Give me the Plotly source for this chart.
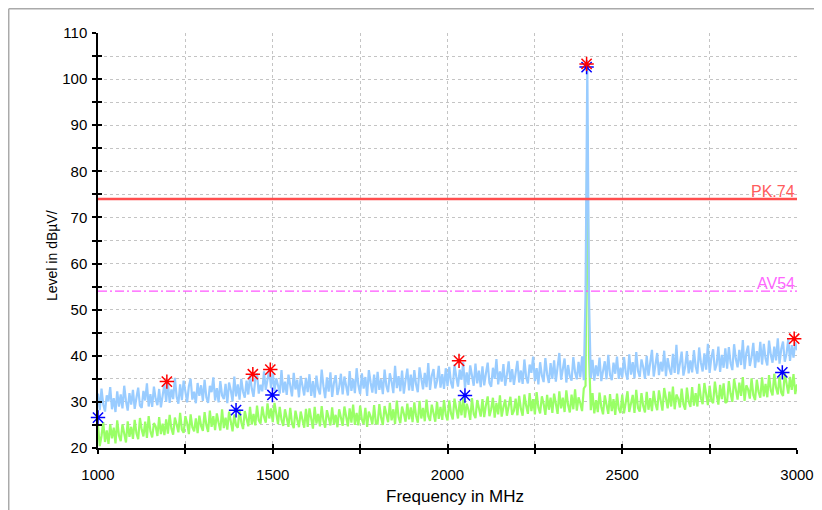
import numpy as np
import plotly.graph_objects as go

# ---------------- data ----------------
f_start, f_step = 1000, 5  # sweep grid (MHz)

peak_level = [
    31.8, 28.2, 32.9, 29.5, 27.9, 31.4, 30.1, 33.2, 28.4, 30.8, 27.8, 32.3, 29.0, 31.6, 28.6, 33.5, 30.2, 28.1, 31.9, 29.4,
    32.6, 28.5, 30.9, 33.1, 29.2, 28.7, 32.4, 30.3, 34.0, 29.0, 31.7, 28.9, 33.3, 30.6, 29.3, 32.8, 28.8, 31.5, 33.9, 30.0,
    34.4, 29.8, 32.7, 30.6, 35.2, 31.1, 29.6, 33.8, 30.4, 34.6, 32.0, 29.9, 33.4, 35.0, 30.5, 32.2, 29.7, 34.1, 31.3, 33.6,
    30.2, 34.8, 31.0, 29.8, 33.5, 32.1, 35.3, 30.3, 33.0, 29.9, 34.5, 31.4, 30.6, 33.9, 29.7, 34.2, 32.5, 30.1, 35.5, 31.2,
    33.8, 30.5, 35.0, 32.2, 30.9, 34.6, 31.6, 35.8, 32.9, 31.1, 34.9, 36.2, 31.8, 33.7, 32.3, 36.6, 32.6, 35.4, 37.1, 33.0,
    36.4, 32.4, 35.1, 33.6, 31.8, 36.9, 32.0, 34.4, 31.5, 35.9, 33.1, 31.2, 36.3, 32.7, 34.8, 31.0, 35.6, 33.3, 31.4, 35.2,
    32.1, 36.0, 31.3, 34.5, 30.9, 35.7, 32.8, 31.6, 37.0, 33.4, 30.8, 35.3, 32.2, 36.4, 31.1, 34.1, 35.8, 31.5, 33.2, 36.1,
    31.6, 35.5, 33.0, 31.4, 36.7, 32.4, 35.0, 31.9, 37.3, 33.6, 31.7, 36.2, 32.9, 35.4, 31.3, 36.9, 34.2, 32.0, 35.9, 31.8,
    36.5, 32.6, 34.9, 31.7, 37.0, 33.5, 32.1, 36.2, 34.4, 31.9, 37.8, 33.0, 35.6, 32.3, 36.8, 31.8, 34.7, 37.2, 32.5, 35.9,
    32.4, 36.9, 33.8, 32.1, 37.5, 34.6, 32.7, 36.3, 33.2, 38.4, 32.6, 35.7, 37.1, 32.9, 34.5, 37.8, 33.1, 36.0, 32.8, 37.3,
    33.4, 37.6, 34.2, 32.9, 38.1, 35.5, 33.3, 37.0, 34.8, 38.6, 33.0, 36.4, 33.7, 37.9, 35.1, 33.5, 38.3, 34.0, 36.8, 33.2,
    37.7, 33.6, 36.2, 38.5, 34.1, 33.3, 37.4, 35.0, 39.3, 33.8, 36.6, 34.4, 38.2, 33.5, 35.9, 38.8, 34.3, 37.1, 33.7, 36.5,
    38.9, 34.2, 36.8, 33.9, 39.2, 35.4, 34.0, 38.1, 36.3, 39.8, 34.5, 37.3, 33.8, 38.6, 35.7, 34.3, 39.5, 36.0, 34.1, 38.4,
    35.0, 39.0, 34.4, 37.6, 40.6, 34.8, 36.9, 39.4, 34.2, 38.0, 35.5, 34.6, 39.7, 36.4, 34.9, 38.7, 35.3, 39.9, 34.7, 53.5,
    103.0, 52.0, 35.2, 39.1, 34.6, 37.9, 35.6, 39.6, 34.5, 36.7, 38.8, 34.9, 40.2, 35.8, 34.7, 38.5, 36.1, 39.8, 35.0, 37.4,
    35.3, 39.7, 36.4, 34.8, 40.3, 35.9, 38.6, 35.1, 40.8, 36.7, 35.4, 39.2, 37.5, 35.0, 40.0, 35.7, 38.9, 41.3, 35.5, 37.8,
    40.6, 35.8, 38.7, 36.6, 41.1, 35.6, 39.5, 37.2, 35.9, 40.4, 36.3, 42.4, 36.0, 38.3, 40.9, 35.7, 37.6, 41.0, 36.2, 39.0,
    36.4, 41.2, 37.7, 36.1, 41.8, 38.5, 36.6, 40.5, 37.0, 42.6, 36.3, 39.6, 41.4, 36.8, 38.1, 42.0, 36.5, 40.2, 37.4, 41.6,
    37.2, 41.9, 38.4, 36.9, 42.5, 39.3, 37.5, 41.3, 38.0, 43.4, 37.1, 40.6, 42.2, 37.8, 39.7, 42.8, 37.4, 41.0, 38.6, 43.0,
    38.1, 42.6, 39.4, 37.9, 43.3, 40.2, 38.5, 42.0, 39.0, 43.8, 38.3, 41.5, 43.1, 38.7, 40.4, 43.6, 38.9, 42.3, 39.6, 43.0,
    41.2,
]

avg_level = [
    24.9, 20.4, 22.6, 25.6, 21.3, 23.8, 20.9, 25.2, 22.1, 24.4, 21.0, 26.0, 22.7, 21.5, 25.1, 23.3, 21.2, 25.8, 22.4, 24.6,
    22.0, 26.1, 23.2, 21.9, 26.5, 24.0, 22.5, 25.7, 22.2, 26.9, 23.6, 22.3, 25.4, 24.7, 22.6, 26.7, 23.0, 25.3, 22.8, 26.2,
    23.1, 27.2, 24.2, 22.9, 26.6, 25.1, 23.4, 27.6, 24.0, 23.3, 26.9, 25.4, 23.0, 27.3, 24.5, 23.6, 26.4, 23.2, 27.0, 24.8,
    23.7, 27.8, 25.0, 23.5, 28.1, 24.6, 26.9, 23.9, 27.5, 25.5, 23.8, 28.4, 24.3, 26.6, 24.0, 27.9, 25.2, 23.6, 27.3, 24.9,
    24.4, 28.3, 25.6, 24.1, 28.0, 26.3, 24.7, 28.9, 25.1, 27.4, 24.9, 29.2, 26.0, 25.3, 29.0, 26.8, 25.5, 29.7, 26.4, 28.6,
    25.6, 29.8, 27.2, 25.2, 28.9, 26.1, 24.8, 28.4, 26.5, 24.6, 28.7, 25.4, 24.3, 28.1, 26.2, 24.5, 27.9, 25.8, 24.4, 28.5,
    24.6, 28.6, 26.0, 24.2, 28.9, 25.3, 27.4, 24.7, 29.1, 25.9, 24.4, 28.2, 26.6, 24.9, 28.8, 25.1, 27.2, 24.5, 28.4, 26.3,
    24.8, 29.0, 26.4, 24.7, 28.6, 25.5, 29.4, 25.0, 27.6, 24.9, 29.2, 26.2, 25.2, 28.7, 24.6, 27.9, 26.8, 25.1, 29.3, 25.4,
    25.3, 29.5, 26.6, 25.0, 29.1, 27.3, 25.6, 29.8, 26.0, 28.4, 25.2, 30.3, 26.7, 25.4, 29.0, 27.5, 25.7, 29.6, 26.2, 28.8,
    25.6, 29.9, 27.0, 25.5, 30.2, 26.4, 28.7, 25.8, 30.5, 26.9, 25.9, 29.4, 27.6, 25.7, 30.0, 26.3, 28.9, 26.1, 30.4, 27.2,
    26.0, 30.3, 27.5, 26.2, 30.7, 28.0, 26.4, 30.1, 27.1, 31.0, 26.6, 29.6, 28.3, 26.1, 30.8, 27.4, 26.5, 30.4, 28.6, 26.8,
    30.6, 26.7, 29.3, 31.2, 26.9, 28.4, 30.9, 26.6, 29.8, 27.3, 31.4, 26.8, 28.9, 30.5, 27.0, 29.5, 31.1, 27.2, 28.1, 30.7,
    27.1, 31.3, 28.5, 27.0, 31.6, 29.2, 27.4, 31.9, 28.0, 30.6, 27.3, 32.1, 28.8, 27.5, 31.2, 29.6, 27.2, 31.5, 28.3, 30.9,
    27.6, 31.8, 29.0, 27.4, 32.3, 28.6, 30.9, 27.8, 32.5, 29.3, 27.7, 31.6, 28.4, 32.7, 28.1, 31.0, 29.7, 28.0, 32.9, 33.5,
    90.0, 40.0, 28.2, 31.9, 27.5, 30.4, 27.8, 32.0, 28.9, 27.3, 31.4, 29.0, 27.4, 31.7, 28.0, 30.6, 27.2, 31.8, 28.5, 27.6,
    31.6, 27.5, 30.2, 32.3, 27.8, 29.4, 31.5, 27.6, 32.6, 28.7, 27.9, 31.9, 29.1, 27.7, 32.2, 28.3, 30.8, 28.0, 32.4, 29.6,
    28.2, 32.5, 29.8, 28.1, 33.0, 30.4, 28.6, 32.2, 29.0, 33.3, 28.4, 31.6, 30.7, 28.8, 32.9, 29.5, 28.3, 33.1, 30.1, 28.9,
    33.2, 29.2, 31.9, 29.0, 33.9, 30.8, 29.5, 34.1, 31.2, 29.3, 33.5, 30.3, 29.7, 34.4, 31.6, 29.4, 33.7, 30.6, 34.0, 29.8,
    30.1, 34.5, 31.8, 30.0, 35.0, 32.4, 30.5, 34.2, 31.3, 35.4, 30.2, 33.6, 32.7, 30.7, 35.1, 31.5, 30.4, 34.8, 32.2, 30.9,
    35.3, 31.2, 33.9, 31.0, 35.8, 32.5, 31.4, 36.1, 33.1, 31.6, 35.6, 32.0, 31.3, 36.3, 33.7, 31.8, 35.4, 32.6, 36.0, 31.7,
    33.8,
]

freq_pk = f_start + f_step * np.arange(len(peak_level))
freq_av = f_start + f_step * np.arange(len(avg_level))

pk_marker_f = [1197, 1443, 1493, 2033, 2398, 2992]
pk_marker_v = [34.4, 36.0, 37.0, 38.9, 103.3, 43.7]
av_marker_f = [1000, 1395, 1499, 2050, 2398, 2958]
av_marker_v = [26.6, 28.2, 31.5, 31.4, 102.6, 36.4]

limit_f = [1000, 3000]
pk_limit = 74
av_limit = 54

x_ticks = [1000, 1250, 1500, 1750, 2000, 2250, 2500, 2750, 3000]
x_labels = ["1000", "", "1500", "", "2000", "", "2500", "", "3000"]
y_ticks = list(range(20, 111, 5))
y_labels = [str(v) if v % 10 == 0 else "" for v in y_ticks]

# ---------------- figure ----------------
font = "Liberation Sans, Arial, sans-serif"
fig = go.Figure()

fig.add_trace(go.Scatter(x=freq_av, y=avg_level, mode="lines",
                         line=dict(color="#99ff66", width=2.2), hoverinfo="skip"))
fig.add_trace(go.Scatter(x=freq_pk, y=peak_level, mode="lines",
                         line=dict(color="#99ccff", width=2.2), hoverinfo="skip"))
fig.add_trace(go.Scatter(x=limit_f, y=[pk_limit] * 2, mode="lines",
                         line=dict(color="#ff4d4d", width=2.5)))
fig.add_trace(go.Scatter(x=limit_f, y=[av_limit] * 2, mode="lines",
                         line=dict(color="#ff55ff", width=1.2, dash="9px,3px,2px,3px")))
fig.add_trace(go.Scatter(x=av_marker_f, y=av_marker_v, mode="markers", cliponaxis=False,
                         marker=dict(symbol="asterisk", size=12,
                                     line=dict(color="#0000ff", width=1.5))))
fig.add_trace(go.Scatter(x=pk_marker_f, y=pk_marker_v, mode="markers", cliponaxis=False,
                         marker=dict(symbol="asterisk", size=12,
                                     line=dict(color="#ff0000", width=1.5))))
# invisible trace for overlay axes (inside tick marks)
fig.add_trace(go.Scatter(x=limit_f, y=[pk_limit] * 2, xaxis="x2", yaxis="y2",
                         mode="lines", line=dict(width=0), opacity=0, hoverinfo="skip"))

fig.add_annotation(x=3000, y=pk_limit, text="PK.74", showarrow=False,
                   xanchor="right", yanchor="bottom", yshift=-3,
                   font=dict(family=font, size=16, color="#ff5c5c"))
fig.add_annotation(x=3000, y=av_limit, text="AV54", showarrow=False,
                   xanchor="right", yanchor="bottom", yshift=-3,
                   font=dict(family=font, size=16, color="#ff66ff"))

# axis titles
fig.add_annotation(xref="paper", yref="paper", x=0.511, y=-0.117, text="Frequency in MHz",
                   showarrow=False, xanchor="center", yanchor="middle",
                   font=dict(family=font, size=17, color="black"))
fig.add_annotation(xref="paper", yref="paper", x=-0.0658, y=0.4627, text="Level in dBµV/",
                   showarrow=False, xanchor="center", yanchor="middle", textangle=-90,
                   font=dict(family=font, size=14, color="black"))

# outer frame lines (top and left), at the figure's own edge
fig.add_shape(type="line", xref="paper", yref="paper", x0=-0.1277, x1=1.1, y0=1.0584, y1=1.0584,
              line=dict(color="#aaaaaa", width=1.5))
fig.add_shape(type="line", xref="paper", yref="paper", x0=-0.1277, x1=-0.1277, y0=-0.2, y1=1.0584,
              line=dict(color="#aaaaaa", width=1.5))

axis_common = dict(showline=True, linecolor="black", linewidth=1.5,
                   ticks="outside", ticklen=4, tickwidth=1.5, tickcolor="black",
                   showgrid=True, gridcolor="#c4c4c4", griddash="3px,3px", gridwidth=1,
                   zeroline=False, automargin=False,
                   tickfont=dict(family=font, size=15, color="black"))

# the page adds an 8 px body margin, so margins are offset by 8 px
fig.update_layout(
    width=822, height=510,
    margin=dict(l=90, r=33, t=25, b=70),
    paper_bgcolor="white", plot_bgcolor="white",
    showlegend=False,
    xaxis=dict(range=[1000, 3000], tickmode="array", tickvals=x_ticks, ticktext=x_labels,
               ticklabelstandoff=8, **axis_common),
    yaxis=dict(range=[20, 110], tickmode="array", tickvals=y_ticks, ticktext=y_labels,
               ticklabelstandoff=2, **axis_common),
    xaxis2=dict(overlaying="x", matches="x", anchor="y2", side="bottom",
                tickmode="array", tickvals=x_ticks, showticklabels=False,
                ticks="inside", ticklen=4, tickwidth=1.5, tickcolor="black",
                showgrid=False, showline=False, zeroline=False, automargin=False),
    yaxis2=dict(overlaying="y", matches="y", anchor="x2", side="left",
                tickmode="array", tickvals=y_ticks, showticklabels=False,
                ticks="inside", ticklen=4, tickwidth=1.5, tickcolor="black",
                showgrid=False, showline=False, zeroline=False, automargin=False),
)

fig.write_html("out.html")
